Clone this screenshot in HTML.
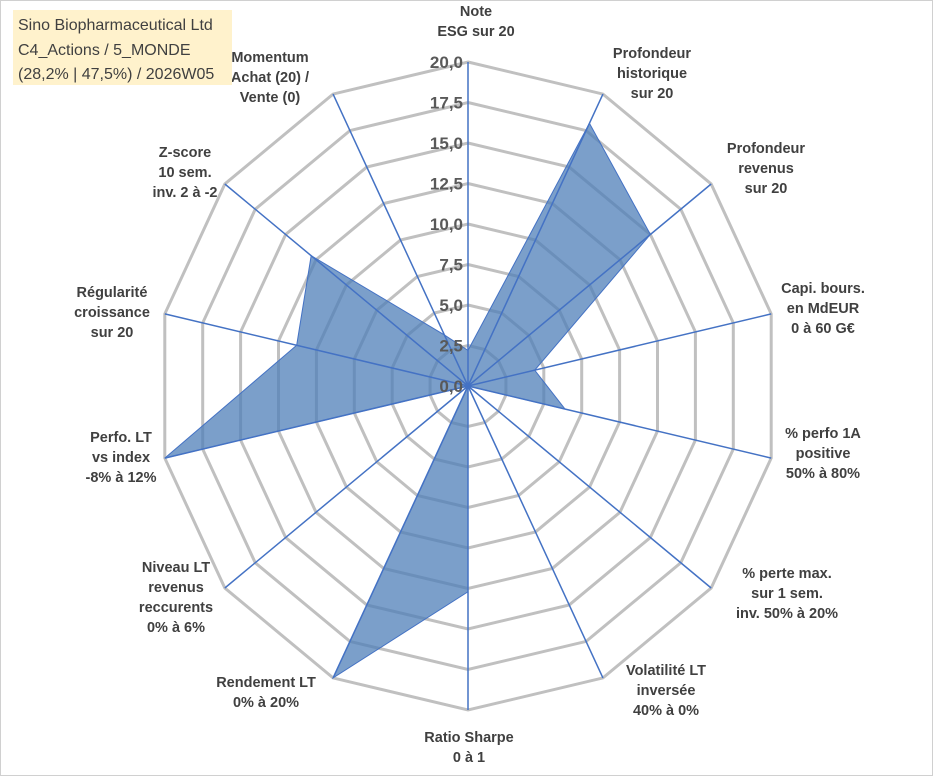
<!DOCTYPE html>
<html><head><meta charset="utf-8"><style>
body{margin:0;background:#fff}
svg{display:block;font-family:"Liberation Sans",Arial,sans-serif}
</style></head><body>
<svg width="933" height="776" viewBox="0 0 933 776">
<rect x="0.5" y="0.5" width="932" height="775" fill="#fff" stroke="#d0d0d0"/>
<g id="grid"></g>
<g id="series"></g>
<g id="spokes"></g>
<g id="ticks"></g>
<g id="labels"></g>
<rect x="13" y="10" width="219" height="75" fill="#fff2cc"/>
<g font-size="16" fill="#404040">
<text x="18" y="30">Sino Biopharmaceutical Ltd</text>
<text x="18" y="55">C4_Actions / 5_MONDE</text>
<text x="18" y="79">(28,2% | 47,5%) / 2026W05</text>
</g>
</svg>
<script>
const categories=["Note|ESG sur 20","Profondeur|historique|sur 20","Profondeur|revenus|sur 20","Capi. bours.|en MdEUR|0 à 60 G€","% perfo 1A|positive|50% à 80%","% perte max.|sur 1 sem.|inv. 50% à 20%","Volatilité LT|inversée|40% à 0%","Ratio Sharpe|0 à 1","Rendement LT|0% à 20%","Niveau LT|revenus|reccurents|0% à 6%","Perfo. LT|vs index|-8% à 12%","Régularité|croissance|sur 20","Z-score|10 sem.|inv. 2 à -2","Momentum|Achat (20) /|Vente (0)"];
const values=[2.2,18,15,4.4,6.4,0,0,12.7,20,0,20,11.3,12.9,3.5];
const tickLabels=["0,0","2,5","5,0","7,5","10,0","12,5","15,0","17,5","20,0"];
const labelPos=[[476,16],[652,58],[766,153],[823,293],[823,438],[787,578],[666,675],[469,742],[266,687],[176,572],[121,442],[112,297],[185,157],[270,62]];
const NS="http://www.w3.org/2000/svg";
const cx=468,cy=386,rx=311,ry=324,maxV=20,N=categories.length;
function pt(i,v){const a=i*2*Math.PI/N;return[cx+Math.sin(a)*rx*v/maxV,cy-Math.cos(a)*ry*v/maxV];}
function mk(tag,attrs,parent){const e=document.createElementNS(NS,tag);for(const k in attrs)e.setAttribute(k,attrs[k]);parent.appendChild(e);return e;}
const grid=document.getElementById('grid');
for(let t=1;t<tickLabels.length;t++){const v=t*2.5;const pts=[];for(let i=0;i<N;i++)pts.push(pt(i,v).join(','));
const p=mk('polygon',{points:pts.join(' '),fill:'none',stroke:'#c0c0c0','stroke-width':3},grid);

}
const poly=[];for(let i=0;i<N;i++)poly.push(pt(i,values[i]).join(','));
const s=mk('polygon',{points:poly.join(' '),fill:'#4f7fb8','fill-opacity':0.75,stroke:'#4472c4','stroke-width':1},document.getElementById('series'));


const sp=document.getElementById('spokes');
for(let i=0;i<N;i++){const e=pt(i,maxV);const l=mk('line',{x1:cx,y1:cy,x2:e[0],y2:e[1],stroke:'#4472c4','stroke-width':1.5},sp);

}
const tk=document.getElementById('ticks');
for(let t=0;t<tickLabels.length;t++){const y=cy-ry*t*2.5/maxV;const tx=mk('text',{x:cx-5,y:y+6,'text-anchor':'end','font-size':17,'font-weight':'bold',fill:'#595959'},tk);tx.textContent=tickLabels[t];

}
const lg=document.getElementById('labels');
for(let i=0;i<N;i++){const lines=categories[i].split('|');const [x,y]=labelPos[i];
const tx=mk('text',{x:x,y:y,'text-anchor':'middle','font-size':14.5,'font-weight':'bold',fill:'#404040'},lg);


lines.forEach((ln,j)=>{const ts=mk('tspan',{x:x,dy:j?20:0},tx);ts.textContent=ln;});}
</script>
</body></html>
